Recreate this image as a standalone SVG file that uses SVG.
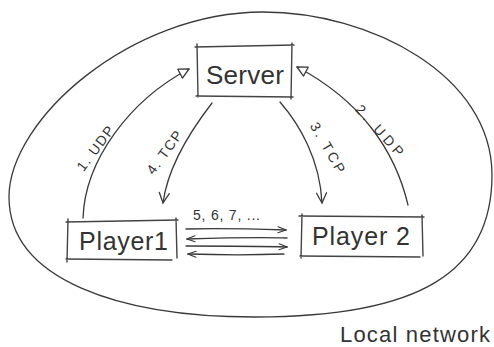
<svg xmlns="http://www.w3.org/2000/svg" width="494" height="347" viewBox="0 0 494 347">
<defs>
<style>
.ln{fill:none;stroke:#3a3a3a;stroke-width:1.3;stroke-linecap:round;stroke-linejoin:round}
.bx{fill:none;stroke:#444;stroke-width:1.4;stroke-linecap:round}
.t{font-family:"Liberation Sans","DejaVu Sans",sans-serif;fill:#333}
.lbl{font-size:14px}
</style>
<marker id="tri" viewBox="0 0 12 12" refX="11" refY="6" markerWidth="12" markerHeight="12" markerUnits="userSpaceOnUse" orient="auto">
<path d="M1,1 L11,6 L1,11 Z" fill="#fff" stroke="#3a3a3a" stroke-width="1.3" stroke-linejoin="round"/>
</marker>
<marker id="vee" viewBox="0 0 12 12" refX="11" refY="6" markerWidth="12" markerHeight="12" markerUnits="userSpaceOnUse" orient="auto">
<path d="M1,1 L11,6 L1,11" fill="none" stroke="#3a3a3a" stroke-width="1.3" stroke-linejoin="round" stroke-linecap="round"/>
</marker>
<marker id="sm" viewBox="0 0 10 8" refX="9" refY="4" markerWidth="10" markerHeight="8" markerUnits="userSpaceOnUse" orient="auto">
<path d="M1,1 L9,4 L1,7" fill="none" stroke="#3a3a3a" stroke-width="1.1" stroke-linecap="round"/>
</marker>
</defs>
<rect width="494" height="347" fill="#fff"/>

<g id="network">
<path class="ln" d="M263,12 C370,12 492,75 492,175 C492,272 420,317 255,317 C120,317 9,280 9,197 C9,120 130,12 263,12"/>
<text class="t" x="340" y="342" font-size="22" textLength="150">Local network</text>
</g>

<g id="server">
<path class="bx" d="M195,47 L294,45 M197,44 L198,97 M292,43 L291,99 M196,96 L293,97"/>
<text class="t" x="206" y="84" font-size="26" textLength="78">Server</text>
</g>

<g id="player1">
<path class="bx" d="M66,222 L178,220 M68,219 L67,262 M176,218 L177,258 M66,259 L172,260"/>
<text class="t" x="79" y="250" font-size="25" textLength="89">Player1</text>
</g>

<g id="player2">
<path class="bx" d="M299,216 L424,217 M302,214 L301,258 M422,215 L423,256 M300,256 L420,257"/>
<text class="t" x="312" y="245" font-size="25" textLength="98">Player 2</text>
</g>

<g id="connectors">
<path class="ln" d="M83,218 C85,160 130,100 189,69" marker-end="url(#tri)"/>
<path class="ln" d="M212,103 C195,125 168,165 163,203" marker-end="url(#vee)"/>
<path class="ln" d="M280,102 C300,125 320,160 322,203" marker-end="url(#vee)"/>
<path class="ln" d="M408,205 C395,150 360,100 297,67" marker-end="url(#tri)"/>
<path class="ln" d="M186,229 C220,228 255,229 286,230" marker-end="url(#sm)"/>
<path class="ln" d="M287,238 C255,237 220,238 187,239" marker-end="url(#sm)"/>
<path class="ln" d="M186,246 C220,246 255,246 287,247" marker-end="url(#sm)"/>
<path class="ln" d="M284,254 C255,255 220,255 188,254" marker-end="url(#sm)"/>
</g>

<g id="labels">
<text class="t lbl" transform="translate(96,149) rotate(-53)" text-anchor="middle" textLength="52" y="4">1. UDP</text>
<text class="t lbl" transform="translate(165,153) rotate(-54)" text-anchor="middle" textLength="50" y="4">4. TCP</text>
<text class="t lbl" transform="translate(327,148) rotate(60)" text-anchor="middle" textLength="56" y="4">3. TCP</text>
<text class="t lbl" transform="translate(379,131) rotate(48)" text-anchor="middle" textLength="64" y="4">2. UDP</text>
<text class="t" x="193" y="220" font-size="14" textLength="67">5, 6, 7, ...</text>
</g>
</svg>
